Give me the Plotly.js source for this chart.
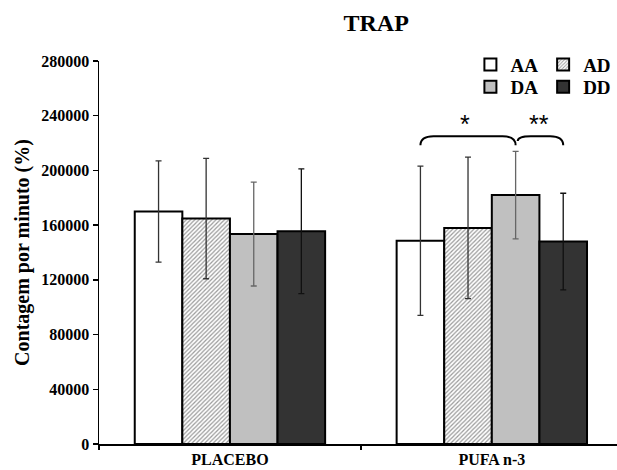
<!DOCTYPE html>
<html>
<head>
<meta charset="utf-8">
<script src="https://cdn.plot.ly/plotly-3.0.1.min.js"></script>
<style>html,body{margin:0;padding:0;background:#fff;}#chart{width:617px;height:470px;}</style>
</head>
<body>
<div id="chart"></div>
<script>
const groups = ['PLACEBO', 'PUFA n-3'];
const seriesNames = ['AA', 'AD', 'DA', 'DD'];
const valuesAA = [170000, 148600];
const valuesAD = [164800, 158000];
const valuesDA = [153500, 182000];
const valuesDD = [155600, 148000];
const errAA = [37000, 54500];
const errAD = [44000, 51700];
const errDA = [38000, 32000];
const errDD = [45600, 35300];
const yTicks = [0, 40000, 80000, 120000, 160000, 200000, 240000, 280000];
const signifLabels = ['*', '**'];

const FONT = 'Liberation Serif, Times New Roman, serif';
const bargap = 0.273;
const barW = (1 - bargap) / 4;

const styles = [
  {fill: '#ffffff', err: '#333333', legend: 'legend'},
  {fill: '#ffffff', err: '#333333', legend: 'legend', pattern: true},
  {fill: '#c0c0c0', err: '#666666', legend: 'legend2'},
  {fill: '#333333', err: '#111111', legend: 'legend2'}
];
const vals = [valuesAA, valuesAD, valuesDA, valuesDD];
const errs = [errAA, errAD, errDA, errDD];

const traces = seriesNames.map((name, i) => {
  const s = styles[i];
  const marker = {color: s.fill, line: {color: '#000', width: 2}};
  if (s.pattern) {
    marker.pattern = {shape: '/', fgcolor: '#9a9a9a', bgcolor: '#ffffff', size: 3, solidity: 0.4};
  }
  return {
    type: 'bar', name: name, x: groups, y: vals[i],
    marker: marker,
    legend: s.legend,
    error_y: {type: 'data', array: errs[i], visible: true, color: s.err, thickness: 1.3, width: 3},
    hoverinfo: 'skip'
  };
});

// positions of bar centres within the PUFA n-3 group (category index 1)
const pufaIdx = 1;
const barCenter = k => pufaIdx + (k - 1.5) * barW;
const xAA = barCenter(0), xDA = barCenter(2), xDD = barCenter(3);
const braceLow = 218400, braceTop = 225000, starY = 234000;
const r = 0.05;
function brace(x1, x2, y1) {
  return `M ${x1},${y1} Q ${x1},${braceTop} ${x1 + r},${braceTop} L ${x2 - r},${braceTop} Q ${x2},${braceTop} ${x2},${braceLow}`;
}

const legendFont = {family: FONT, size: 19, weight: 'bold'};
const layout = {
  width: 617, height: 470,
  margin: {l: 99, r: 0, t: 61, b: 26},
  paper_bgcolor: '#fff', plot_bgcolor: '#fff',
  font: {family: FONT, color: '#000', size: 16},
  title: {text: 'TRAP', font: {family: FONT, size: 24, weight: 'bold', color: '#000'},
          x: 0.535, xref: 'paper', xanchor: 'center', y: 0.952, yanchor: 'middle'},
  barmode: 'group', bargap: bargap, bargroupgap: 0,
  showlegend: true,
  legend: {orientation: 'h', x: 0.717, xanchor: 'left', y: 1.04, yanchor: 'top',
           font: legendFont, bgcolor: 'rgba(0,0,0,0)', traceorder: 'normal'},
  legend2: {orientation: 'h', x: 0.717, xanchor: 'left', y: 0.982, yanchor: 'top',
           font: legendFont, bgcolor: 'rgba(0,0,0,0)', traceorder: 'normal'},
  xaxis: {type: 'category', range: [-0.5, 1.478], showline: true, linecolor: '#000', linewidth: 1.5,
          ticks: 'outside', tickson: 'boundaries', ticklen: 4, tickwidth: 1.5, tickcolor: '#000',
          showgrid: false, zeroline: false, automargin: false,
          tickfont: {family: FONT, size: 16, weight: 'bold'}},
  yaxis: {range: [0, 280000], tickvals: yTicks, ticktext: yTicks.map(String),
          showline: true, linecolor: '#000', linewidth: 1.5, ticks: 'outside', ticklen: 5, tickwidth: 1.5, tickcolor: '#000',
          showgrid: false, zeroline: false, automargin: false,
          tickfont: {family: FONT, size: 16, weight: 'bold'},
          title: {text: 'Contagem por minuto (%)', font: {family: FONT, size: 20, weight: 'bold'}, standoff: 6}},
  shapes: [
    {type: 'path', xref: 'x', yref: 'y', path: brace(xAA, xDA, braceLow), line: {color: '#000', width: 2}},
    {type: 'path', xref: 'x', yref: 'y', path: brace(xDA + 0.008, xDD, 221500), line: {color: '#000', width: 2}}
  ],
  annotations: [
    {x: (xAA + xDA) / 2 - 0.01, y: starY, xref: 'x', yref: 'y', text: signifLabels[0], showarrow: false,
     font: {family: 'Liberation Sans, Arial, sans-serif', size: 25, color: '#000'}},
    {x: (xDA + xDD) / 2, y: starY, xref: 'x', yref: 'y', text: signifLabels[1], showarrow: false,
     font: {family: 'Liberation Sans, Arial, sans-serif', size: 25, color: '#000'}}
  ]
};

Plotly.newPlot('chart', traces, layout, {displayModeBar: false, staticPlot: true});
</script>
</body>
</html>
